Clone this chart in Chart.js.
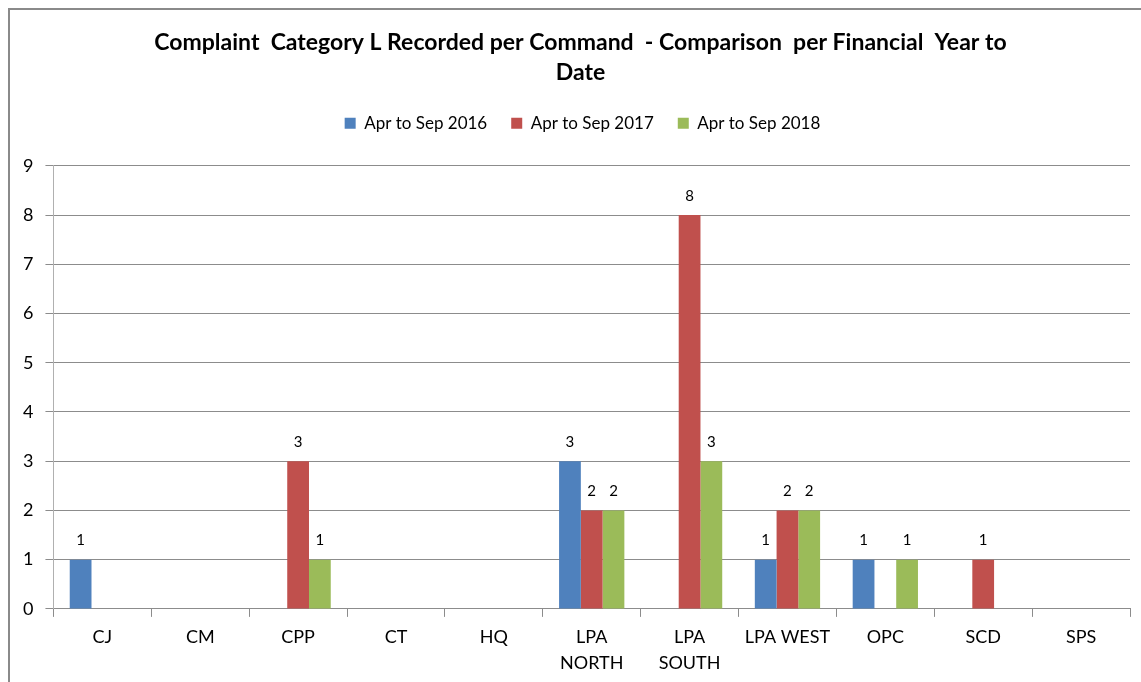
<!DOCTYPE html>
<html>
<head>
<meta charset="utf-8">
<script src="https://cdn.jsdelivr.net/npm/chart.js@4.4.0/dist/chart.umd.min.js"></script>
<style>
  html, body { margin: 0; padding: 0; background: #fff; overflow: hidden; }
  #frame { position: absolute; left: 8px; top: 8px; width: 1200px; height: 720px;
           border-left: 2px solid #8a8a8a; border-top: 2px solid #8a8a8a; }
  #wrap { position: absolute; left: 0; top: 0; width: 1141px; height: 682px; }
</style>
</head>
<body>
<div id="frame"></div>
<div id="wrap"><canvas id="c" width="1141" height="682"></canvas></div>
<script>
const categories = ['CJ', 'CM', 'CPP', 'CT', 'HQ', ['LPA', 'NORTH'], ['LPA', 'SOUTH'], 'LPA WEST', 'OPC', 'SCD', 'SPS'];
const seriesNames = ['Apr to Sep 2016', 'Apr to Sep 2017', 'Apr to Sep 2018'];
const values2016 = [1, 0, 0, 0, 0, 3, 0, 1, 1, 0, 0];
const values2017 = [0, 0, 3, 0, 0, 2, 8, 2, 0, 1, 0];
const values2018 = [0, 0, 1, 0, 0, 2, 3, 2, 1, 0, 0];
const yTicks = [0, 1, 2, 3, 4, 5, 6, 7, 8, 9];
const titleLines = ['Complaint  Category L Recorded per Command  - Comparison  per Financial  Year to', 'Date'];
const colors = ['#4F81BD', '#C0504D', '#9BBB59'];

const FONT = 'Lato, "Open Sans", "DejaVu Sans", sans-serif';

const valueLabels = {
  id: 'valueLabels',
  afterDatasetsDraw(chart) {
    const ctx = chart.ctx;
    ctx.save();
    ctx.font = '15px ' + FONT;
    ctx.fillStyle = '#000';
    ctx.textAlign = 'center';
    ctx.textBaseline = 'middle';
    chart.data.datasets.forEach((ds, i) => {
      const meta = chart.getDatasetMeta(i);
      meta.data.forEach((bar, j) => {
        const v = ds.data[j];
        if (v) ctx.fillText(String(v), bar.x, bar.y - 19);
      });
    });
    ctx.restore();
  }
};

// extra space under the legend, and a small rightward shift of title + legend
const headerTweak = {
  id: 'headerTweak',
  beforeInit(chart) {
    const lg = chart.legend;
    if (lg) {
      const fit = lg.fit;
      lg.fit = function () { fit.call(this); this.height += 24; };
      const d = lg.draw;
      lg.draw = function () { const c = this.ctx; c.save(); c.translate(12, 0); d.call(this); c.restore(); };
    }
    const tb = chart.titleBlock;
    if (tb) {
      const d2 = tb.draw;
      tb.draw = function () { const c = this.ctx; c.save(); c.translate(10, 0); d2.call(this); c.restore(); };
    }
  }
};

new Chart(document.getElementById('c'), {
  type: 'bar',
  data: {
    labels: categories,
    datasets: [
      { label: seriesNames[0], data: values2016, backgroundColor: colors[0] },
      { label: seriesNames[1], data: values2017, backgroundColor: colors[1] },
      { label: seriesNames[2], data: values2018, backgroundColor: colors[2] }
    ]
  },
  options: {
    responsive: false,
    animation: false,
    devicePixelRatio: 1,
    layout: { padding: { left: 11, right: 11, top: 0, bottom: -2 } },
    datasets: { bar: { categoryPercentage: 0.667, barPercentage: 1.0 } },
    plugins: {
      title: {
        display: true,
        text: titleLines,
        color: '#000',
        font: { family: FONT, size: 23, weight: 'bold', lineHeight: 1.3 },
        padding: { top: 28, bottom: 3 }
      },
      legend: {
        display: true,
        position: 'top',
        labels: {
          color: '#000',
          font: { family: FONT, size: 17 },
          boxWidth: 11, boxHeight: 11,
          padding: 24
        }
      },
      tooltip: { enabled: false }
    },
    scales: {
      x: {
        grid: { display: true, drawOnChartArea: false, drawTicks: true, tickLength: 8, color: '#8c8c8c', offset: true },
        border: { display: true, color: '#8c8c8c' },
        ticks: { color: '#000', font: { family: FONT, size: 18, lineHeight: 1.42 }, padding: 8, maxRotation: 0, autoSkip: false }
      },
      y: {
        min: 0, max: 9,
        afterBuildTicks(scale) { scale.ticks = yTicks.map(v => ({ value: v })); },
        grid: { color: '#8c8c8c', tickLength: 8, drawTicks: true },
        border: { display: true, color: '#b0b0b0' },
        ticks: { color: '#000', font: { family: FONT, size: 18 }, padding: 12 }
      }
    }
  },
  plugins: [valueLabels, headerTweak]
});
</script>
</body>
</html>
